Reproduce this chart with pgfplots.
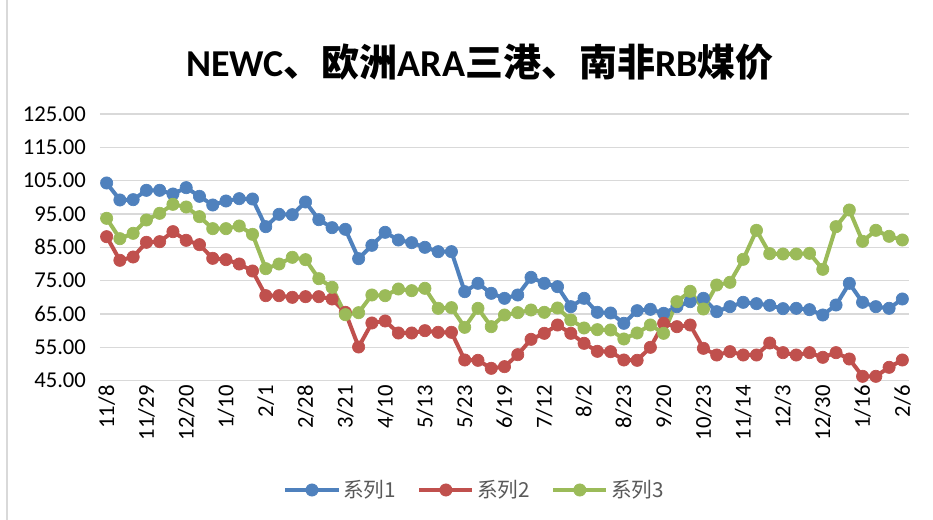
\documentclass[border=0pt]{standalone}
\usepackage{pgfplots}
\pgfplotsset{compat=1.18}
\usepackage{pgfplotstable}
\usepackage{fontspec}
\setmainfont{Carlito}
\newfontfamily\cjk{Noto Sans CJK SC}
\definecolor{sA}{HTML}{4F81BD}
\definecolor{sB}{HTML}{C0504D}
\definecolor{sC}{HTML}{9BBB59}
\pgfplotstableread{
x a b c
0 104.3 88.2 93.7
1 99.2 81.1 87.6
2 99.3 82.1 89.2
3 102.1 86.5 93.2
4 102.1 86.7 95.2
5 101.0 89.7 97.9
6 102.9 87.1 97.1
7 100.3 85.8 94.2
8 97.7 81.7 90.6
9 98.9 81.3 90.6
10 99.6 80.0 91.4
11 99.5 77.9 88.9
12 91.2 70.5 78.6
13 94.9 70.5 80.0
14 94.8 70.0 82.0
15 98.6 70.2 81.3
16 93.3 70.2 75.6
17 90.9 69.5 73.0
18 90.4 65.5 64.8
19 81.6 55.1 65.4
20 85.6 62.3 70.7
21 89.5 62.9 70.5
22 87.2 59.3 72.5
23 86.4 59.3 72.0
24 85.0 60.0 72.7
25 83.7 59.5 66.7
26 83.7 59.5 66.9
27 71.7 51.2 61.0
28 74.2 51.1 66.7
29 71.2 48.7 61.2
30 69.7 49.2 64.7
31 70.7 52.8 65.4
32 76.0 57.4 66.2
33 74.2 59.2 65.5
34 73.2 61.7 66.8
35 67.2 59.2 63.2
36 69.7 56.2 60.8
37 65.5 53.8 60.3
38 65.3 53.7 60.2
39 62.2 51.2 57.5
40 66.0 51.1 59.3
41 66.4 55.0 61.7
42 65.2 62.2 59.2
43 67.2 61.2 68.7
44 68.7 61.7 71.8
45 69.7 54.7 66.5
46 65.7 52.7 73.7
47 67.2 53.7 74.5
48 68.5 52.7 81.4
49 68.1 52.7 90.1
50 67.6 56.3 83.1
51 66.6 53.4 83.0
52 66.7 52.7 83.0
53 66.3 53.4 83.2
54 64.7 52.0 78.4
55 67.7 53.4 91.2
56 74.2 51.5 96.2
57 68.5 46.3 86.8
58 67.2 46.3 90.1
59 66.7 49.0 88.3
60 69.5 51.2 87.2
}\data
\begin{document}
\begin{tikzpicture}
\path[use as bounding box] (0,0) rectangle (699.75pt,390pt);
\draw[color=black!15, line width=1pt] (5.25pt,0) -- (5.25pt,390pt);
\node[font=\fontsize{28.5}{32}\selectfont\bfseries] at (360pt,343pt) {NEWC{\cjk\bfseries 、欧洲}ARA{\cjk\bfseries 三港、南非}RB{\cjk\bfseries 煤价}};
\begin{axis}[
  at={(75pt,104.5pt)}, anchor=south west,
  scale only axis, width=606.75pt, height=200pt,
  xmin=-0.5, xmax=60.5, ymin=45, ymax=125,
  ytick={45,55,...,125},
  xtick={0,3,...,60},
  xticklabels={11/8,11/29,12/20,1/10,2/1,2/28,3/21,4/10,5/13,5/23,6/19,7/12,8/2,8/23,9/20,10/23,11/14,12/3,12/30,1/16,2/6},
  ymajorgrids,
  grid style={color=black!15, line width=1.1pt},
  axis line style={draw=none},
  major tick length=0pt,
  /pgf/number format/assume math mode=true,
  tick label style={font=\fontsize{17}{20}\selectfont, text=black},
  xticklabel style={rotate=90, anchor=east},
  yticklabel style={xshift=-7pt, /pgf/number format/.cd, fixed, fixed zerofill, precision=2},
  legend columns=3,
  legend style={at={(0.4635,-0.41)}, anchor=center, draw=none, font=\cjk\fontsize{15.5}{18}\selectfont, text=black!65,
    /tikz/every even column/.append style={column sep=14pt}},
  legend image code/.code={\draw[mark repeat=2,mark phase=2] plot coordinates {(0cm,0cm) (0.7cm,0cm) (1.4cm,0cm)};},
  every axis plot/.append style={line width=3pt, line join=round, mark=*, mark size=4.6pt, mark options={solid, line width=0.5pt}},
]
\addplot[color=sA] table[x=x,y=a]{\data};
\addlegendentry{系列1}
\addplot[color=sB] table[x=x,y=b]{\data};
\addlegendentry{系列2}
\addplot[color=sC] table[x=x,y=c]{\data};
\addlegendentry{系列3}
\end{axis}
\end{tikzpicture}
\end{document}
